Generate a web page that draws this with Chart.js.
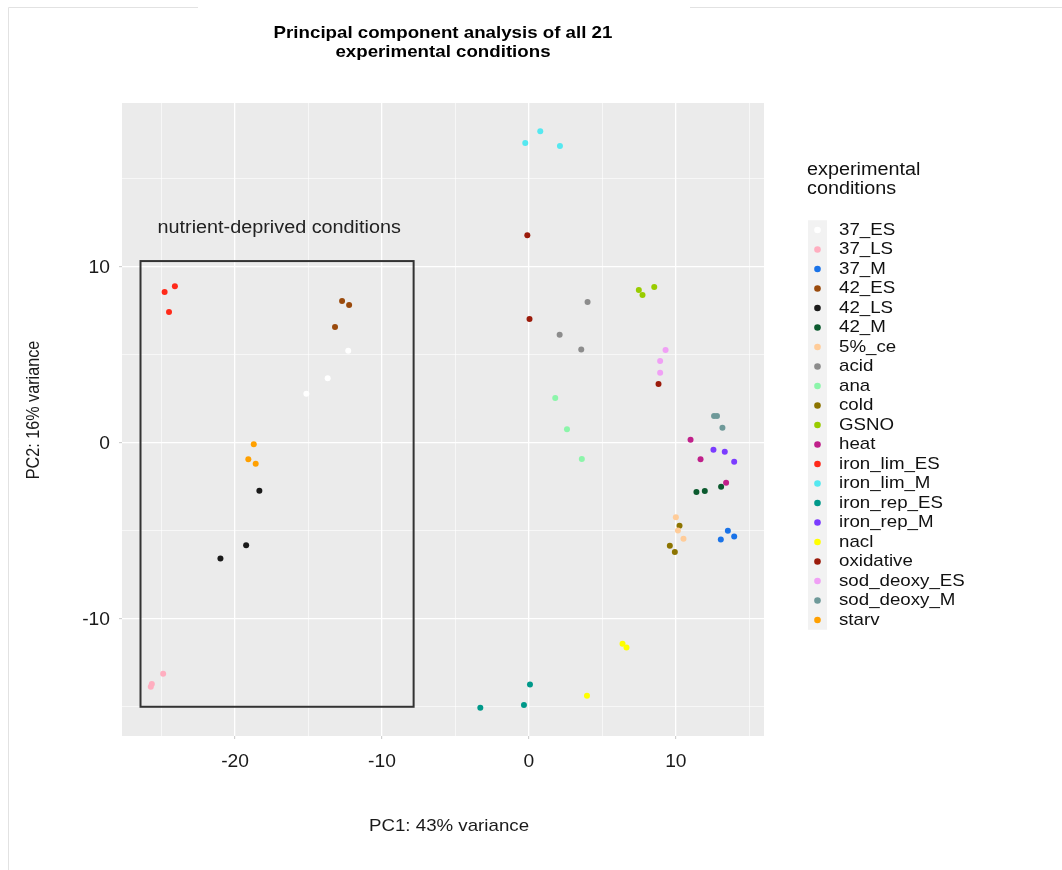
<!DOCTYPE html>
<html>
<head>
<meta charset="utf-8">
<script src="https://cdn.jsdelivr.net/npm/chart.js@4"></script>
<style>
  body { margin: 0; background: #fff; }
  #wrap { width: 1062px; height: 870px; }
</style>
</head>
<body>
<div id="wrap"><canvas id="pca" width="1062" height="870"></canvas></div>
<script>
// Data

const conditions = ['37_ES', '37_LS', '37_M', '42_ES', '42_LS', '42_M', '5%_ce', 'acid', 'ana', 'cold', 'GSNO',
    'heat', 'iron_lim_ES', 'iron_lim_M', 'iron_rep_ES', 'iron_rep_M', 'nacl', 'oxidative', 'sod_deoxy_ES', 'sod_deoxy_M', 'starv'];

const colors = ['#FFFFFF', '#FFAEC0', '#1A73E8', '#9A4A0C', '#1A1A1A', '#0B5A2E', '#FFCC99', '#8C8C8C', '#8CF5AA', '#8C7400', '#99CC00',
    '#C0208A', '#FF2A1A', '#55E8F0', '#00998A', '#7B3CFF', '#FFFF00', '#9B1B0B', '#F0A0F5', '#6E9999', '#FFA000'];

const pc1 = [
    [-12.3, -13.7, -15.15],
    [-24.9, -25.67, -25.74],
    [13.54, 13.06, 13.97],
    [-12.72, -12.24, -13.2],
    [-18.35, -19.25, -21.0],
    [11.4, 11.97, 13.08],
    [10.0, 10.14, 10.52],
    [3.99, 2.09, 3.56],
    [1.79, 2.59, 3.6],
    [10.25, 9.59, 9.93],
    [7.48, 7.73, 8.53],
    [11.0, 11.68, 13.42],
    [-24.8, -24.1, -24.5],
    [-0.25, 0.77, 2.11],
    [0.07, -0.34, -3.31],
    [12.56, 13.33, 13.97],
    [6.37, 6.64, 3.95],
    [-0.11, 0.04, 8.82],
    [9.3, 8.93, 8.93],
    [12.6, 12.8, 13.17],
    [-18.73, -19.1, -18.6],
];

const pc2 = [
    [5.23, 3.66, 2.78],
    [-13.12, -13.71, -13.86],
    [-5.0, -5.49, -5.32],
    [8.05, 7.82, 6.57],
    [-2.73, -5.83, -6.57],
    [-2.8, -2.74, -2.5],
    [-4.24, -4.98, -5.45],
    [8.0, 6.14, 5.29],
    [2.54, 0.76, -0.93],
    [-4.71, -5.85, -6.21],
    [8.68, 8.39, 8.85],
    [0.17, -0.94, -2.27],
    [8.56, 8.89, 7.43],
    [17.03, 17.69, 16.86],
    [-13.73, -14.9, -15.06],
    [-0.4, -0.51, -1.08],
    [-11.42, -11.63, -14.37],
    [11.78, 7.03, 3.33],
    [5.27, 4.64, 3.98],
    [1.52, 1.52, 0.85],
    [-0.09, -0.94, -1.19],
];

// box around the nutrient-deprived samples (data units)
const boxX = [-26.44, -7.85];
const boxY = [-15.0, 10.32];
const boxLabel = 'nutrient-deprived conditions';
const boxLabelAt = [-17.0, 12.2];

const titleLines = ['Principal component analysis of all 21', 'experimental conditions'];
const legendTitle = ['experimental', 'conditions'];
const xTitle = 'PC1: 43% variance';
const yTitle = 'PC2: 16% variance';

const FONT = '"Liberation Sans", Arial, Helvetica, sans-serif';
const SX = 1.1; // the source image is a bit wider than tall

const datasets = conditions.map(function (name, i) {
    return {
        label: name,
        data: pc1[i].map(function (x, j) { return { x: x, y: pc2[i][j] }; }),
        backgroundColor: colors[i],
        borderWidth: 0,
        pointRadius: 3,
        pointHoverRadius: 3,
    };
});

function isMajor(v) { return Math.abs(v % 10) < 1e-9; }

function gridFor() {
    return {
        color: '#FFFFFF',
        lineWidth: function (ctx) { return isMajor(ctx.tick.value) ? 1.3 : 0.6; },
        tickColor: function (ctx) { return isMajor(ctx.tick.value) ? '#C8C8C8' : 'rgba(0,0,0,0)'; },
        tickLength: 3,
        tickWidth: 1,
    };
}

// text with a slight horizontal stretch
function label(ctx, text, x, y, font, align, rot) {
    ctx.save();
    ctx.translate(x, y);
    ctx.scale(SX, 1);
    if (rot) ctx.rotate(rot);
    ctx.font = font;
    ctx.textAlign = align;
    ctx.textBaseline = 'middle';
    ctx.fillText(text, 0, 0);
    ctx.restore();
}

// page furniture: panel background, title, box, legend, frame, axis text
const decor = {
    id: 'decor',
    beforeDraw: function (chart) {
        const ctx = chart.ctx;
        const a = chart.chartArea;
        ctx.save();
        ctx.fillStyle = '#FFFFFF';
        ctx.fillRect(0, 0, chart.width, chart.height);
        // frame lines
        ctx.strokeStyle = '#E2E2E2';
        ctx.lineWidth = 1;
        ctx.beginPath();
        ctx.moveTo(8.5, 870); ctx.lineTo(8.5, 7.5); ctx.lineTo(198, 7.5);
        ctx.moveTo(690, 7.5); ctx.lineTo(1062, 7.5);
        ctx.stroke();
        ctx.fillStyle = '#EBEBEB';
        ctx.fillRect(a.left, a.top, a.right - a.left, a.bottom - a.top);
        ctx.restore();
    },
    afterDatasetsDraw: function (chart) {
        const ctx = chart.ctx;
        const xs = chart.scales.x;
        const ys = chart.scales.y;
        ctx.save();
        // box
        const x0 = xs.getPixelForValue(boxX[0]);
        const x1 = xs.getPixelForValue(boxX[1]);
        const y0 = ys.getPixelForValue(boxY[1]);
        const y1 = ys.getPixelForValue(boxY[0]);
        ctx.strokeStyle = '#333333';
        ctx.lineWidth = 2;
        ctx.strokeRect(x0, y0, x1 - x0, y1 - y0);
        ctx.fillStyle = '#222222';
        label(ctx, boxLabel, xs.getPixelForValue(boxLabelAt[0]), ys.getPixelForValue(boxLabelAt[1]), '18px ' + FONT, 'center');

        // tick labels from the scales
        ctx.fillStyle = '#1A1A1A';
        xs.ticks.forEach(function (t) {
            if (isMajor(t.value)) label(ctx, String(t.value), xs.getPixelForValue(t.value), 762, '17.5px ' + FONT, 'center');
        });
        ys.ticks.forEach(function (t) {
            if (isMajor(t.value)) label(ctx, String(t.value), 110, ys.getPixelForValue(t.value) + 1, '17.5px ' + FONT, 'right');
        });
        label(ctx, xTitle, 449, 826, '17px ' + FONT, 'center');
        label(ctx, yTitle, 34, 410, '16.2px ' + FONT, 'center', -Math.PI / 2);

        // title
        const a = chart.chartArea;
        const cx = (a.left + a.right) / 2;
        ctx.fillStyle = '#000000';
        label(ctx, titleLines[0], cx, 33, 'bold 17px ' + FONT, 'center');
        label(ctx, titleLines[1], cx, 52, 'bold 17px ' + FONT, 'center');

        // legend
        ctx.fillStyle = '#111111';
        label(ctx, legendTitle[0], 807, 170, '18px ' + FONT, 'left');
        label(ctx, legendTitle[1], 807, 189, '18px ' + FONT, 'left');
        const step = 19.5;
        const top = 230;
        ctx.fillStyle = '#F2F2F2';
        ctx.fillRect(808, top - step / 2, 19, step * conditions.length);
        conditions.forEach(function (name, i) {
            const y = top + i * step;
            ctx.beginPath();
            ctx.arc(817.5, y, 3.3, 0, Math.PI * 2);
            ctx.fillStyle = colors[i];
            ctx.fill();
            ctx.fillStyle = '#111111';
            label(ctx, name, 839, y, '17px ' + FONT, 'left');
        });
        ctx.restore();
    },
};

const config = {
    type: 'scatter',
    data: { datasets: datasets },
    options: {
        responsive: false,
        animation: false,
        events: [],
        layout: { padding: { left: 0, top: 103, right: 298, bottom: 0 } },
        plugins: {
            legend: { display: false },
            title: { display: false },
            tooltip: { enabled: false },
        },
        scales: {
            x: {
                type: 'linear',
                min: -27.7,
                max: 16.0,
                grid: gridFor(),
                border: { display: false },
                ticks: { stepSize: 5, includeBounds: false, autoSkip: false, display: false },
                afterFit: function (scale) { scale.height = 134; },
            },
            y: {
                type: 'linear',
                min: -16.66,
                max: 19.3,
                grid: gridFor(),
                border: { display: false },
                ticks: { stepSize: 5, includeBounds: false, autoSkip: false, display: false },
                afterFit: function (scale) { scale.width = 122; },
            },
        },
    },
    plugins: [decor],
};

const context = document.getElementById('pca').getContext('2d');
const chart = new Chart(context, config);
</script>
</body>
</html>
